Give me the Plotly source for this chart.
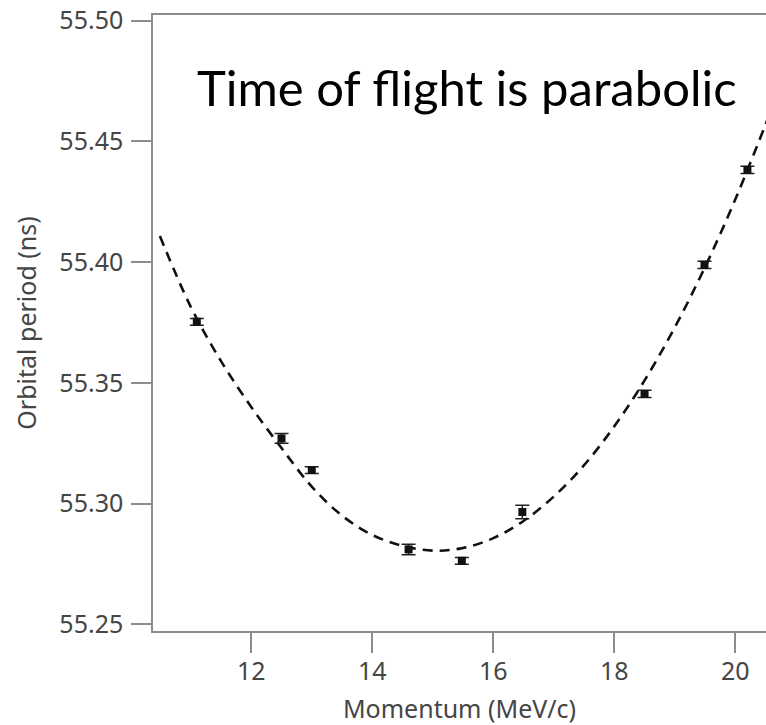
import plotly.graph_objects as go

# Measured data points (momentum MeV/c, orbital period ns, error ns)
momentum = [11.10, 12.50, 13.00, 14.60, 15.48, 16.48, 18.50, 19.49, 20.20]
period = [55.3753, 55.3270, 55.3139, 55.2810, 55.2763, 55.2965, 55.3454, 55.3989, 55.4382]
period_err = [0.0014, 0.0020, 0.0014, 0.0022, 0.0014, 0.0028, 0.0015, 0.0015, 0.0015]

# Dashed fit curve
fit_x = [10.49, 11.0, 11.5, 12.0, 12.5, 13.0, 13.5, 14.0, 14.5, 15.0, 15.5,
         16.0, 16.5, 17.0, 17.5, 18.0, 18.5, 19.0, 19.5, 20.0, 20.5, 20.8]
fit_y = [55.4108, 55.3815, 55.3590, 55.3400, 55.3230, 55.3070, 55.2950, 55.2870,
         55.2825, 55.2805, 55.2816, 55.2857, 55.2928, 55.3029, 55.3159, 55.3320,
         55.3510, 55.3730, 55.3980, 55.4260, 55.4570, 55.4760]

x_ticks = [12, 14, 16, 18, 20]
y_ticks = [55.25, 55.30, 55.35, 55.40, 55.45, 55.50]

axis_col = "#8c8c8c"
text_col = "#454545"

fig = go.Figure()
fig.add_trace(go.Scatter(
    x=fit_x, y=fit_y, mode="lines",
    line=dict(color="#111111", width=2.6, dash="10px,7px", shape="spline", smoothing=1.0),
    hoverinfo="skip", showlegend=False,
))
fig.add_trace(go.Scatter(
    x=momentum, y=period, mode="markers",
    marker=dict(symbol="square", size=8, color="#111111"),
    error_y=dict(type="data", array=period_err, visible=True, color="#222222",
                 thickness=1.5, width=7),
    showlegend=False,
))

fig.add_annotation(
    text="Time of flight is parabolic", xref="paper", yref="paper",
    x=(195 - 153) / 613, y=(631 - 87) / 616, xanchor="left", yanchor="middle",
    showarrow=False, font=dict(family="Lato", size=49, color="#000000"),
)

fig.update_layout(
    width=766, height=725,
    margin=dict(l=153, r=0, t=15, b=94, autoexpand=False),
    paper_bgcolor="white", plot_bgcolor="white",
    font=dict(family="Noto Sans", color=text_col),
)
fig.update_xaxes(
    range=[10.376, 20.507], tickvals=x_ticks, ticktext=[str(v) for v in x_ticks],
    showgrid=False, zeroline=False, showline=True, linecolor=axis_col, linewidth=1.5,
    mirror=True, ticks="outside", ticklen=20, tickwidth=1.5, tickcolor=axis_col,
    tickfont=dict(size=25, color=text_col), ticklabelstandoff=-3,
    title=dict(text="Momentum (MeV/c)", font=dict(size=25, color=text_col), standoff=17),
)
fig.update_yaxes(
    range=[55.24722, 55.50236], tickvals=y_ticks, ticktext=[f"{v:.2f}" for v in y_ticks],
    showgrid=False, zeroline=False, showline=True, linecolor=axis_col, linewidth=1.5,
    mirror=False, ticks="outside", ticklen=20, tickwidth=1.5, tickcolor=axis_col,
    tickfont=dict(size=25, color=text_col), ticklabelstandoff=3,
    title=dict(text="Orbital period (ns)", font=dict(size=25, color=text_col), standoff=16),
)

fig.write_html(
    "out.html",
    config={"displayModeBar": False},
    post_script="document.body.style.margin='0';document.body.style.overflow='hidden';",
)
